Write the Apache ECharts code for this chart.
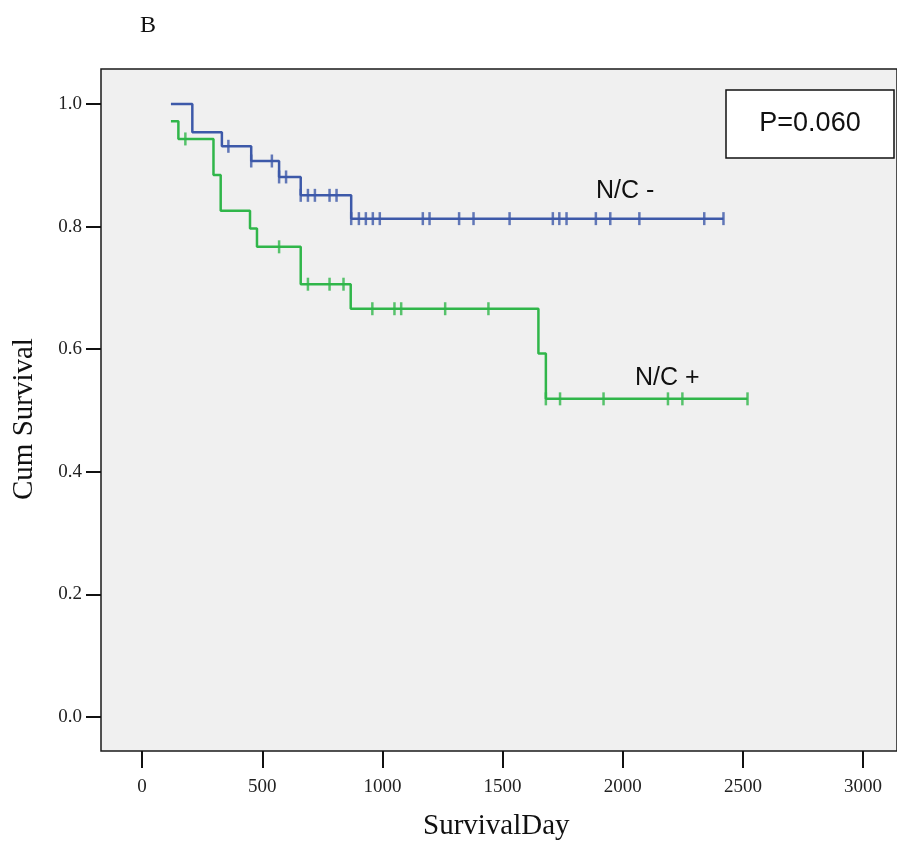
<!DOCTYPE html>
<html>
<head>
<meta charset="utf-8">
<title>Kaplan-Meier B</title>
<script src="https://cdn.jsdelivr.net/npm/echarts@6/dist/echarts.min.js"></script>
<style>
	html, body { margin: 0; padding: 0; background: #fff; }
	#chart { width: 897px; height: 848px; }
</style>
</head>
<body>
<div id="chart"></div>
<script>
// N/C - : 事件时间与生存率
const negTimes = [120, 209, 332, 454, 570, 660, 870];
const negSurv = [1.0, 0.954, 0.931, 0.907, 0.881, 0.851, 0.813];
const negCensor = [359, 454, 540, 570, 599, 660, 690, 719, 780, 809, 870, 902, 931, 960, 989,
	1168, 1196, 1319, 1379, 1529, 1709, 1736, 1766, 1888, 1948, 2069, 2339, 2419];

// N/C + : 事件时间与生存率
const posTimes = [120, 151, 297, 327, 449, 478, 660, 868, 1649, 1680];
const posSurv = [0.972, 0.943, 0.884, 0.826, 0.797, 0.767, 0.706, 0.666, 0.593, 0.519];
const posCensor = [180, 570, 690, 780, 838, 958, 1050, 1078, 1261, 1441, 1680, 1739, 1920, 2188, 2248, 2519];

const xTicks = [0, 500, 1000, 1500, 2000, 2500, 3000];
const yTicks = [0, 0.2, 0.4, 0.6, 0.8, 1.0];

const BLUE = "#3d59a9";
const GREEN = "#30b64a";
const SERIF = "'Liberation Serif', 'DejaVu Serif', serif";
const SANS = "'Liberation Sans', Arial, sans-serif";

// 阶梯线数据, 末尾延伸到最后一个删失点
function stepData(times, surv, censor) {
	const data = times.map((t, i) => [t, surv[i]]);
	const last = Math.max(censor[censor.length - 1], times[times.length - 1]);
	data.push([last, surv[surv.length - 1]]);
	return data;
}

// 删失点所在的生存率
function censorData(times, surv, censor) {
	return censor.map(c => {
		let s = surv[0];
		for (let i = 0; i < times.length; i++) {
			if (times[i] <= c) s = surv[i];
		}
		return [c, s];
	});
}

const chart = echarts.init(document.getElementById("chart"), null, { renderer: "canvas" });

const tickStyle = { color: "#111", width: 2 };

chart.setOption({
	animation: false,
	backgroundColor: "#fff",
	title: {
		text: "B",
		left: 135,
		top: 9,
		textStyle: { fontFamily: SERIF, fontSize: 24, fontWeight: "normal", color: "#111" }
	},
	grid: {
		left: 101,
		top: 69,
		right: 0,
		height: 682,
		show: true,
		backgroundColor: "#f0f0f0",
		borderColor: "#1a1a1a",
		borderWidth: 1.5
	},
	xAxis: {
		type: "value",
		min: -171,
		max: 3141,
		position: "bottom",
		axisLine: { show: false, onZero: false },
		splitLine: { show: false },
		axisTick: { show: true, length: 17, customValues: xTicks, lineStyle: tickStyle },
		axisLabel: {
			customValues: xTicks,
			margin: 27,
			fontFamily: SERIF,
			fontSize: 19,
			color: "#222",
			formatter: v => String(v)
		}
	},
	yAxis: {
		type: "value",
		min: -0.0555,
		max: 1.0571,
		position: "left",
		axisLine: { show: false, onZero: false },
		splitLine: { show: false },
		axisTick: { show: true, length: 15, customValues: yTicks, lineStyle: tickStyle },
		axisLabel: {
			customValues: yTicks,
			margin: 19,
			fontFamily: SERIF,
			fontSize: 19,
			color: "#222",
			formatter: v => v.toFixed(1)
		}
	},
	graphic: [
		{
			type: "text",
			left: 423,
			top: 812,
			style: { text: "SurvivalDay", font: "29px " + SERIF, fill: "#111" }
		},
		{
			type: "text",
			rotation: Math.PI / 2,
			x: 10,
			y: 500,
			style: { text: "Cum Survival", font: "29px " + SERIF, fill: "#111" }
		},
		{
			type: "rect",
			shape: { x: 726, y: 90, width: 168, height: 68 },
			style: { fill: "#fff", stroke: "#111", lineWidth: 1.5 },
			z: 10
		},
		{
			type: "text",
			x: 810,
			y: 124,
			style: { text: "P=0.060", font: "27px " + SANS, fill: "#111", align: "center", verticalAlign: "middle" },
			z: 11
		},
		{
			type: "text",
			x: 596,
			y: 204,
			style: { text: "N/C -", font: "25px " + SANS, fill: "#111", verticalAlign: "bottom" },
			z: 11
		},
		{
			type: "text",
			x: 635,
			y: 391,
			style: { text: "N/C +", font: "25px " + SANS, fill: "#111", verticalAlign: "bottom" },
			z: 11
		}
	],
	series: [
		{
			name: "N/C -",
			type: "line",
			step: "end",
			showSymbol: false,
			data: stepData(negTimes, negSurv, negCensor),
			lineStyle: { color: BLUE, width: 2.5 },
			z: 3
		},
		{
			name: "N/C - censored",
			type: "scatter",
			symbol: "rect",
			symbolSize: [2.5, 13],
			data: censorData(negTimes, negSurv, negCensor),
			itemStyle: { color: BLUE },
			z: 4
		},
		{
			name: "N/C +",
			type: "line",
			step: "end",
			showSymbol: false,
			data: stepData(posTimes, posSurv, posCensor),
			lineStyle: { color: GREEN, width: 2.5 },
			z: 3
		},
		{
			name: "N/C + censored",
			type: "scatter",
			symbol: "rect",
			symbolSize: [2.5, 13],
			data: censorData(posTimes, posSurv, posCensor),
			itemStyle: { color: GREEN },
			z: 4
		}
	]
});
</script>
</body>
</html>
